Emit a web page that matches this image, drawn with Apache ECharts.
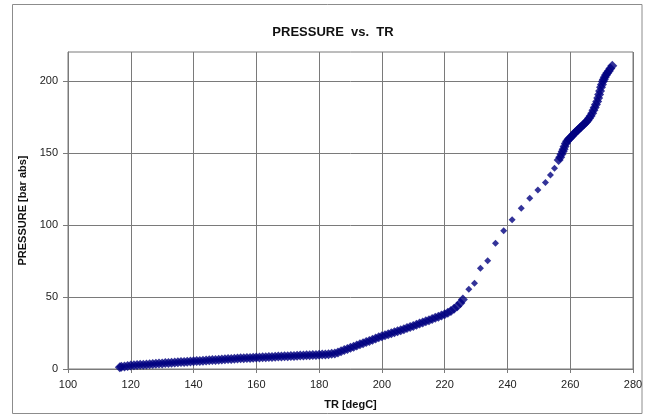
<!DOCTYPE html>
<html>
<head>
<meta charset="utf-8">
<script src="https://cdn.jsdelivr.net/npm/echarts@6/dist/echarts.min.js"></script>
<style>
  html, body { margin: 0; padding: 0; background: #fff; }
  #chart { width: 652px; height: 415px; }
</style>
</head>
<body>
<div id="chart"></div>
<script>
// Reactor temperature TR [degC] and pressure [bar abs] readings
const trDegC = [
  116.5, 117, 118, 119, 120, 121, 122, 123, 124, 125,
  126, 127, 128, 129, 130, 131, 132, 133, 134, 135,
  136, 137, 138, 139, 140, 141, 142, 143, 144, 145,
  146, 147, 148, 149, 150, 151, 152, 153, 154, 155,
  156, 157, 158, 159, 160, 161, 162, 163, 164, 165,
  166, 167, 168, 169, 170, 171, 172, 173, 174, 175,
  176, 177, 178, 179, 180, 181, 182, 183, 184, 185,
  186, 187, 188, 189, 190, 191, 192, 193, 194, 195,
  196, 197, 198, 199, 200, 201, 202, 203, 204, 205,
  206, 207, 208, 209, 210, 211, 212, 213, 214, 215,
  216, 217, 218, 219, 220, 221, 222, 223, 224, 225,
  225.8,
  227.7, 229.5, 231.4, 233.7, 236.2, 238.8, 241.5, 244.4, 247.1, 249.7,
  252.1, 253.7, 255.0,
  256.3, 256.8, 257.2, 257.6, 257.9, 258.2, 258.6, 259.0, 259.5, 260.0,
  260.5, 261.0, 261.5, 262.0, 262.5, 263.0, 263.5, 264.0, 264.5, 265.0,
  265.5, 266.0, 266.5, 267.0, 267.4, 267.8, 268.2, 268.6, 268.9, 269.2,
  269.5, 269.8, 270.1, 270.4, 270.7, 271.0, 271.4, 271.8, 272.3, 272.8,
  273.4
];
const pressureBar = [
  1.2, 1.5, 1.8, 2.1, 2.4, 2.6, 2.7, 2.9, 3.0, 3.2,
  3.3, 3.5, 3.6, 3.8, 3.9, 4.1, 4.2, 4.3, 4.5, 4.6,
  4.8, 4.9, 5.0, 5.2, 5.3, 5.5, 5.6, 5.8, 5.9, 6.1,
  6.2, 6.3, 6.5, 6.6, 6.8, 6.9, 7.0, 7.1, 7.3, 7.4,
  7.5, 7.6, 7.7, 7.8, 7.9, 8.0, 8.1, 8.2, 8.3, 8.4,
  8.5, 8.6, 8.7, 8.8, 8.9, 9.0, 9.1, 9.2, 9.3, 9.4,
  9.5, 9.6, 9.7, 9.8, 9.9, 10.0, 10.1, 10.3, 10.5, 10.8,
  11.5, 12.3, 13.1, 13.9, 14.7, 15.5, 16.3, 17.1, 17.9, 18.7,
  19.5, 20.3, 21.1, 22.0, 22.8, 23.5, 24.1, 24.8, 25.5, 26.2,
  26.9, 27.6, 28.4, 29.1, 29.9, 30.7, 31.5, 32.3, 33.1, 33.9,
  34.7, 35.5, 36.3, 37.1, 38.0, 39.0, 40.3, 41.8, 43.6, 45.8,
  48.2,
  55.3, 59.5, 69.9, 75.2, 87.3, 96.0, 103.5, 111.6, 118.5, 124.3,
  129.4, 134.7, 139.4,
  145.1, 147.0, 149.0, 151.0, 152.5, 154.5, 156.5, 158.0, 159.5, 160.5,
  161.5, 163.0, 164.0, 165.0, 166.0, 167.0, 168.2, 169.2, 170.2, 171.3,
  172.5, 174.0, 175.6, 177.5, 179.5, 181.5, 183.5, 185.6, 188.0, 190.5,
  193.0, 195.5, 197.5, 199.5, 201.0, 202.5, 204.0, 205.5, 206.8, 208.5,
  210.4
];
const xTicks = [100, 120, 140, 160, 180, 200, 220, 240, 260, 280];
const yTicks = [0, 50, 100, 150, 200];

const points = trDegC.map((t, i) => [t, pressureBar[i]]);

const FONT = '"Liberation Sans", Arial, sans-serif';
const GRID_COLOR = '#7a7a7a';

// Densely logged stretches read as a thick trace; the fast ramp shows single markers
function markerSize(value) {
  const t = value[0];
  return (t > 226.5 && t < 256) ? 7 : 10;
}

const chart = echarts.init(document.getElementById('chart'), null, { renderer: 'canvas' });
chart.setOption({
  animation: false,
  backgroundColor: '#ffffff',
  title: {
    text: 'PRESSURE  vs.  TR',
    left: 328,
    top: 21,
    textAlign: 'center',
    textStyle: { fontFamily: FONT, fontSize: 13, fontWeight: 'bold', color: '#111' }
  },
  graphic: [{
    type: 'rect',
    shape: { x: 12.5, y: 4.5, width: 629.5, height: 409 },
    style: { fill: 'none', stroke: '#8c8c8c', lineWidth: 1 },
    silent: true
  }],
  grid: {
    left: 68, top: 52, width: 565, height: 317,
    show: true, borderColor: GRID_COLOR, borderWidth: 1, backgroundColor: '#fff'
  },
  xAxis: {
    type: 'value',
    min: xTicks[0],
    max: xTicks[xTicks.length - 1],
    interval: 20,
    name: 'TR [degC]',
    nameLocation: 'middle',
    nameGap: 30,
    nameTextStyle: { fontFamily: FONT, fontSize: 11, fontWeight: 'bold', color: '#111' },
    axisLine: { show: true, lineStyle: { color: GRID_COLOR, width: 1 } },
    axisTick: { show: true, length: 4, inside: false, lineStyle: { color: GRID_COLOR } },
    axisLabel: { fontFamily: FONT, fontSize: 11, color: '#222', margin: 10 },
    splitLine: { show: true, lineStyle: { color: GRID_COLOR, width: 1 } }
  },
  yAxis: {
    type: 'value',
    min: 0,
    max: 220,
    interval: 50,
    name: 'PRESSURE [bar abs]',
    nameLocation: 'middle',
    nameRotate: 90,
    nameGap: 34,
    nameTextStyle: { fontFamily: FONT, fontSize: 11, fontWeight: 'bold', color: '#111' },
    axisLine: { show: true, lineStyle: { color: GRID_COLOR, width: 1 } },
    axisTick: { show: true, length: 5, inside: false, customValues: yTicks, lineStyle: { color: GRID_COLOR } },
    axisLabel: { fontFamily: FONT, fontSize: 11, color: '#222', margin: 10, customValues: yTicks },
    splitLine: { show: true, lineStyle: { color: GRID_COLOR, width: 1 } }
  },
  series: [{
    type: 'scatter',
    data: points,
    symbol: 'diamond',
    symbolSize: markerSize,
    itemStyle: { color: '#000080' }
  }]
});
</script>
</body>
</html>
